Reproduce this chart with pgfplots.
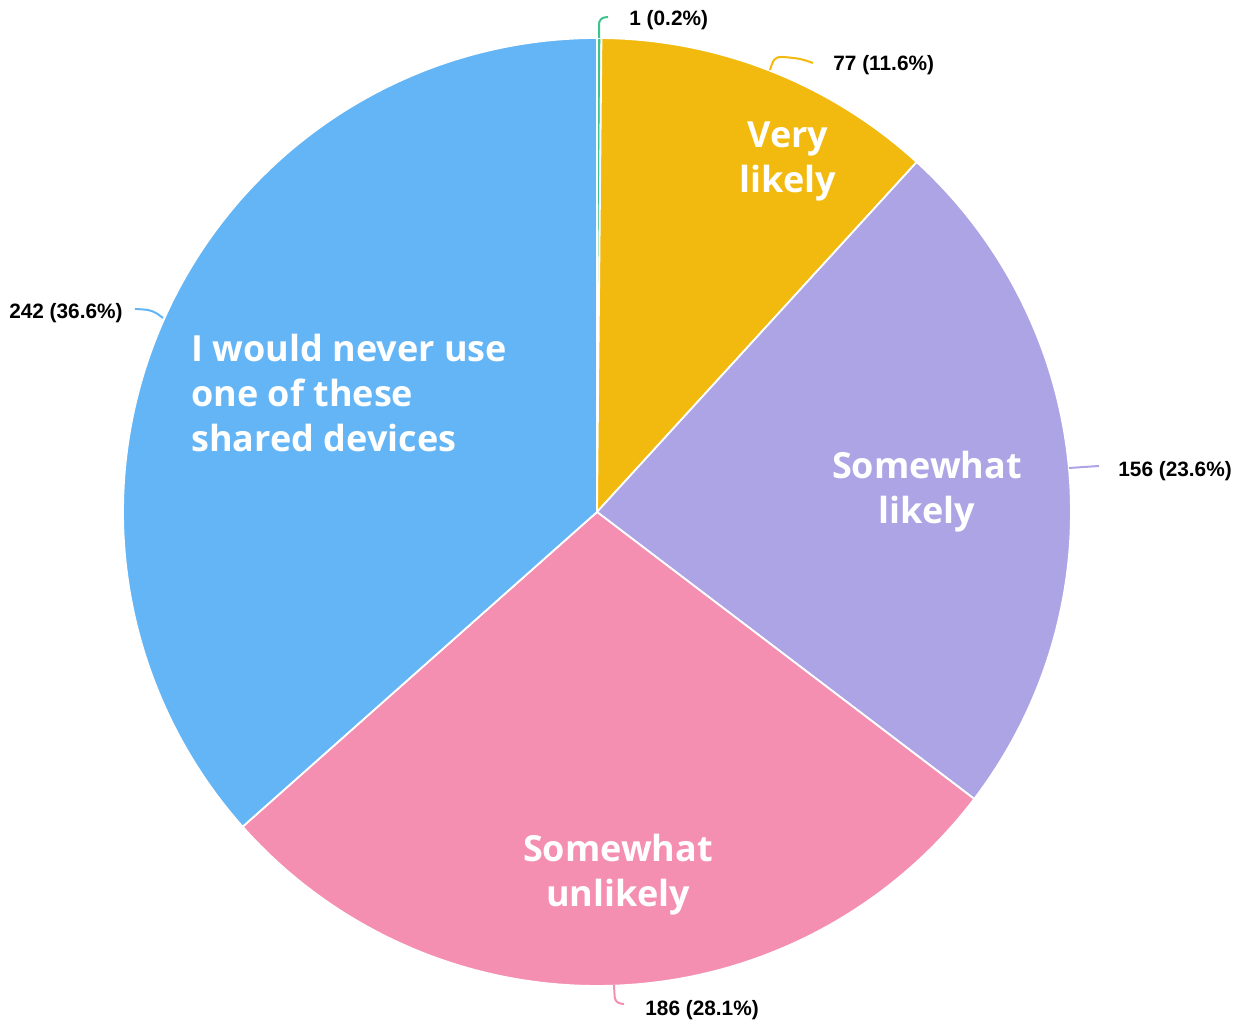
\documentclass[border=0pt]{standalone}
\usepackage{pgfplots}
\pgfplotsset{compat=1.18}
\usepackage{pgfplotstable}
\usepackage{fontspec}
\setmainfont{Liberation Sans}
\newfontfamily\inner{Open Sans}
\definecolor{cGreen}{HTML}{3CC48C}
\definecolor{cYellow}{HTML}{F2B90F}
\definecolor{cPurple}{HTML}{ACA4E5}
\definecolor{cPink}{HTML}{F48FB1}
\definecolor{cBlue}{HTML}{64B5F6}
\pgfplotstableread{
key value
a 1
b 77
c 156
d 186
e 242
}\piedata
\newcommand\cum{0}%
\newcommand\total{0}%
\newcommand\addtotal[1]{%
  \pgfplotstablegetelem{#1}{value}\of\piedata
  \pgfmathsetmacro\tmpT{\total+\pgfplotsretval}%
  \global\let\total\tmpT}
\newcommand\sliceangles[2]{%
  \pgfplotstablegetelem{#1}{value}\of\piedata
  \pgfmathsetmacro\tmpA{90-360*(\cum/\total)}%
  \pgfmathsetmacro\cumnew{\cum+\pgfplotsretval}%
  \pgfmathsetmacro\tmpB{90-360*(\cumnew/\total)}%
  \global\expandafter\let\csname s#2\endcsname\tmpB
  \global\expandafter\let\csname e#2\endcsname\tmpA
  \global\let\cum\cumnew}
\begin{document}%
\addtotal{0}\addtotal{1}\addtotal{2}\addtotal{3}\addtotal{4}%
\sliceangles{0}{A}\sliceangles{1}{B}\sliceangles{2}{C}\sliceangles{3}{D}\sliceangles{4}{E}%
\begin{tikzpicture}
\begin{axis}[
  x=0.5pt, y=0.5pt,
  xmin=0, xmax=1244, ymin=0, ymax=1023,
  hide axis, clip=false,
  scale only axis,
]
\addplot[fill=cGreen, draw=white, line width=0.9pt, domain=\sA:\eA, samples=5, variable=\t]
  ({597+474*cos(\t)},{511+474*sin(\t)}) -- (597,511) -- cycle;
\addplot[fill=cYellow, draw=white, line width=0.9pt, domain=\sB:\eB, samples=60, variable=\t]
  ({597+474*cos(\t)},{511+474*sin(\t)}) -- (597,511) -- cycle;
\addplot[fill=cPurple, draw=white, line width=0.9pt, domain=\sC:\eC, samples=90, variable=\t]
  ({597+474*cos(\t)},{511+474*sin(\t)}) -- (597,511) -- cycle;
\addplot[fill=cPink, draw=white, line width=0.9pt, domain=\sD:\eD, samples=100, variable=\t]
  ({597+474*cos(\t)},{511+474*sin(\t)}) -- (597,511) -- cycle;
\addplot[fill=cBlue, draw=white, line width=0.9pt, domain=\sE:\eE, samples=130, variable=\t]
  ({597+474*cos(\t)},{511+474*sin(\t)}) -- (597,511) -- cycle;
% leader lines
\addplot[cGreen, line width=1pt, rounded corners=3pt] coordinates {(599,985) (599,1005) (608,1006)};
\addplot[cYellow, line width=1pt, smooth] coordinates {(770,953) (774,963) (781,966) (800,964) (813,960)};
\addplot[cPurple, line width=1pt] coordinates {(1069,555) (1099,557)};
\addplot[cPink, line width=1pt, rounded corners=3pt] coordinates {(614,38) (615,20) (624,19)};
\addplot[cBlue, line width=1pt, smooth] coordinates {(135,714) (148,713) (156,710) (163,705)};
% outer labels
\node[anchor=west, font=\fontsize{10.4}{12}\selectfont\bfseries, inner sep=0pt] at (629,1003) {1 (0.2\%)};
\node[anchor=west, font=\fontsize{10.4}{12}\selectfont\bfseries, inner sep=0pt] at (833,958) {77 (11.6\%)};
\node[anchor=west, font=\fontsize{10.4}{12}\selectfont\bfseries, inner sep=0pt] at (1118,552) {156 (23.6\%)};
\node[anchor=west, font=\fontsize{10.4}{12}\selectfont\bfseries, inner sep=0pt] at (645,13) {186 (28.1\%)};
\node[anchor=east, font=\fontsize{10.4}{12}\selectfont\bfseries, inner sep=0pt] at (123,710) {242 (36.6\%)};
% inner labels
\node[align=center, text=white, font=\inner\fontsize{18}{22.5}\selectfont\bfseries, inner sep=0pt] at (788,862) {Very\\likely};
\node[align=center, text=white, font=\inner\fontsize{18}{22.5}\selectfont\bfseries, inner sep=0pt] at (927,531) {Somewhat\\likely};
\node[align=center, text=white, font=\inner\fontsize{18}{22.5}\selectfont\bfseries, inner sep=0pt] at (618,148) {Somewhat\\unlikely};
\node[align=left, anchor=west, text=white, font=\inner\fontsize{18}{22.5}\selectfont\bfseries, inner sep=0pt] at (191,630) {I would never use\\one of these\\shared devices};
\end{axis}
\path (current axis.south west) rectangle (current axis.north east);
\end{tikzpicture}%
\end{document}
